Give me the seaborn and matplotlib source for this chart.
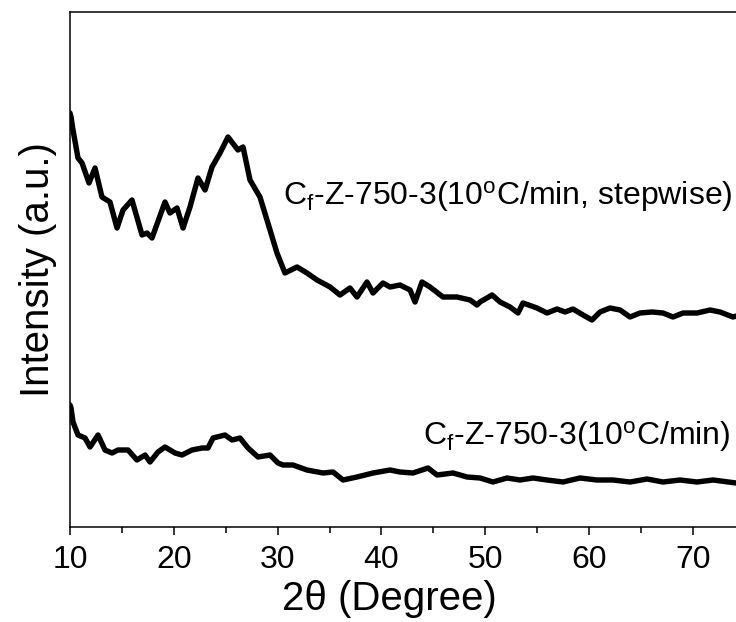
import numpy as np
import pandas as pd
import seaborn as sns
import matplotlib.pyplot as plt

# 2theta (degree) and intensity (a.u.)
theta_step = [10.0, 10.1, 10.29, 10.77, 11.16, 11.83, 12.41, 13.08, 13.85, 14.53,
              15.11, 15.97, 16.94, 17.42, 17.90, 19.15, 19.63, 20.31, 20.89, 21.56,
              22.33, 23.01, 23.68, 24.45, 25.22, 26.18, 26.67, 27.34, 28.30, 29.27,
              29.94, 30.71, 31.87, 32.83, 33.80, 35.05, 36.01, 36.97, 37.65, 38.61,
              39.19, 40.15, 40.83, 41.79, 42.76, 43.24, 43.91, 44.68, 45.93, 47.28,
              48.54, 49.21, 49.50, 50.66, 51.43, 52.39, 53.16, 53.64, 54.99, 55.95,
              56.92, 57.69, 58.46, 59.42, 60.29, 61.06, 62.02, 62.99, 63.95, 64.91,
              66.07, 67.13, 68.09, 69.06, 70.40, 71.66, 72.62, 73.87, 74.2]
int_step = [414, 410, 397, 369, 364, 344, 359, 330, 325, 299,
            317, 327, 292, 294, 289, 325, 314, 319, 299, 320,
            349, 337, 360, 374, 390, 377, 380, 347, 330, 297,
            274, 254, 260, 254, 247, 240, 232, 239, 230, 245,
            234, 244, 240, 242, 237, 225, 245, 240, 230, 230,
            227, 222, 225, 232, 225, 220, 214, 224, 219, 214,
            218, 215, 218, 212, 207, 215, 219, 217, 210, 214,
            215, 214, 210, 214, 214, 217, 215, 210, 211]

theta_const = [10.0, 10.1, 10.29, 10.77, 11.45, 11.93, 12.70, 13.37, 14.05, 14.62,
               15.59, 16.45, 17.23, 17.71, 18.48, 19.15, 20.12, 20.79, 21.75, 22.72,
               23.29, 23.78, 24.93, 25.61, 26.38, 27.15, 28.11, 29.27, 30.04, 30.52,
               31.48, 32.83, 34.37, 35.34, 36.30, 37.65, 39.19, 40.83, 41.79, 43.04,
               44.49, 45.36, 46.90, 48.25, 49.50, 50.75, 52.10, 53.35, 54.61, 55.95,
               57.50, 59.13, 60.77, 62.31, 63.95, 65.59, 67.13, 68.77, 70.40, 71.95,
               74.16]
int_const = [122, 119, 105, 92, 89, 80, 92, 77, 74, 77,
             77, 67, 72, 65, 75, 80, 74, 72, 77, 79,
             79, 89, 92, 87, 89, 79, 70, 72, 64, 62,
             62, 57, 54, 55, 47, 50, 54, 57, 55, 54,
             59, 52, 54, 50, 49, 45, 49, 47, 49, 47,
             45, 49, 47, 47, 45, 48, 45, 47, 45, 47,
             44]

label_step = r'C$_\mathregular{f}$-Z-750-3(10$^\mathregular{o}$C/min, stepwise)'
label_const = r'C$_\mathregular{f}$-Z-750-3(10$^\mathregular{o}$C/min)'

sns.set_theme(style='ticks')
plt.rcParams['font.family'] = ['Liberation Sans', 'DejaVu Sans']
plt.rcParams['mathtext.fontset'] = 'custom'
plt.rcParams['mathtext.rm'] = 'Liberation Sans'
plt.rcParams['mathtext.default'] = 'regular'
plt.rcParams['text.color'] = 'black'
plt.rcParams['axes.labelcolor'] = 'black'
plt.rcParams['xtick.color'] = 'black'

fig = plt.figure(figsize=(7.36, 6.22), dpi=100)
ax = fig.add_axes([70 / 736, 95 / 622, 666 / 736, 515 / 622])

df_step = pd.DataFrame({'theta': theta_step, 'I': int_step})
df_const = pd.DataFrame({'theta': theta_const, 'I': int_const})
for df in (df_step, df_const):
    sns.lineplot(data=df, x='theta', y='I', ax=ax, color='black', lw=3.9,
                 sort=False, estimator=None, solid_joinstyle='round')

ax.text(30.52, 322, label_step, fontsize=23, va='baseline', ha='left')
ax.text(44.0, 82, label_const, fontsize=23, va='baseline', ha='left')

ax.set_xlim(10, 74.16)
ax.set_ylim(0, 515)
ax.set_xticks([10, 20, 30, 40, 50, 60, 70])
ax.set_xticks([15, 25, 35, 45, 55, 65], minor=True)
ax.set_yticks([])
ax.tick_params(axis='x', which='major', direction='out', length=6, width=1.1,
               labelsize=23, pad=7)
ax.tick_params(axis='x', which='minor', direction='out', length=4, width=1.1)
for side in ('left', 'bottom', 'top'):
    ax.spines[side].set_linewidth(1.1)
    ax.spines[side].set_color('black')
ax.spines['right'].set_visible(False)

ax.set_xlabel('2θ (Degree)', fontsize=29)
ax.set_ylabel('Intensity (a.u.)', fontsize=29)
ax.xaxis.set_label_coords(0.48, -0.102)
ax.yaxis.set_label_coords(-0.020, 0.5)

fig.savefig('out.png', dpi=100)
